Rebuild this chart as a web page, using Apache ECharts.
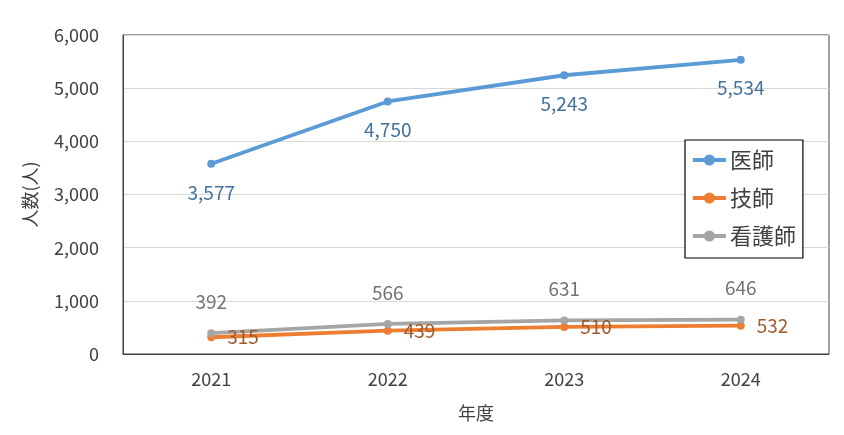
<!DOCTYPE html>
<html>
<head>
<meta charset="utf-8">
<script src="https://cdn.jsdelivr.net/npm/echarts@6/dist/echarts.min.js"></script>
<style>
    html, body { margin: 0; padding: 0; background: #fff; }
    #chart { width: 844px; height: 435px; }
</style>
</head>
<body>
<div id="chart"></div>
<script>
// 年度
var years = ['2021', '2022', '2023', '2024'];
// 各職種の人数
var doctors = [3577, 4750, 5243, 5534];
var technicians = [315, 439, 510, 532];
var nurses = [392, 566, 631, 646];
var seriesNames = ['医師', '技師', '看護師'];

var FONT = '"Noto Sans CJK JP", "Noto Sans", sans-serif';

function makeSeries(name, data, color, labelColor, labelPos, labelDist) {
    return {
        name: name,
        type: 'line',
        data: data,
        symbol: 'circle',
        symbolSize: 8,
        lineStyle: { color: color, width: 3.8 },
        itemStyle: { color: color },
        label: {
            show: true,
            position: labelPos,
            distance: labelDist,
            color: labelColor,
            fontFamily: FONT,
            fontSize: 19,
            formatter: function (p) { return p.value.toLocaleString('en-US'); }
        }
    };
}

var chart = echarts.init(document.getElementById('chart'));
chart.setOption({
    animation: false,
    textStyle: { fontFamily: FONT },
    grid: {
        left: 123,
        right: 15,
        top: 35,
        bottom: 81,
        show: true,
        borderColor: '#404040',
        borderWidth: 1
    },
    legend: {
        orient: 'vertical',
        left: 685,
        top: 140,
        data: seriesNames,
        backgroundColor: '#fff',
        borderColor: '#000',
        borderWidth: 1.2,
        borderRadius: 0,
        padding: [9, 7, 11, 6],
        itemGap: 16,
        itemWidth: 33,
        itemHeight: 14,
        lineStyle: { width: 3.8 },
        textStyle: { fontFamily: FONT, fontSize: 22, color: '#404040', padding: [0, 0, 0, -1] }
    },
    xAxis: {
        type: 'category',
        data: years,
        boundaryGap: true,
        name: '年度',
        nameLocation: 'middle',
        nameGap: 50,
        nameTextStyle: { fontFamily: FONT, fontSize: 18, color: '#404040' },
        axisLine: { lineStyle: { color: '#404040', width: 1 } },
        axisTick: { alignWithLabel: true, length: 6, lineStyle: { color: '#404040' } },
        axisLabel: { fontFamily: FONT, fontSize: 18, color: '#404040', margin: 16 }
    },
    yAxis: {
        type: 'value',
        min: 0,
        max: 6000,
        interval: 1000,
        name: '人数(人)',
        nameLocation: 'middle',
        nameGap: 84,
        nameTextStyle: { fontFamily: FONT, fontSize: 18, color: '#404040' },
        axisLine: { show: true, lineStyle: { color: '#404040' } },
        axisTick: { show: false },
        splitLine: { lineStyle: { color: '#d9d9d9', width: 1 } },
        axisLabel: {
            fontFamily: FONT,
            fontSize: 18,
            color: '#404040',
            margin: 24,
            formatter: function (v) { return v.toLocaleString('en-US'); }
        }
    },
    series: [
        makeSeries(seriesNames[0], doctors, '#5B9BD5', '#41719C', 'bottom', 15),
        makeSeries(seriesNames[1], technicians, '#ED7D31', '#9E5A2A', 'right', 12),
        makeSeries(seriesNames[2], nurses, '#A5A5A5', '#737373', 'top', 18)
    ]
});
</script>
</body>
</html>
